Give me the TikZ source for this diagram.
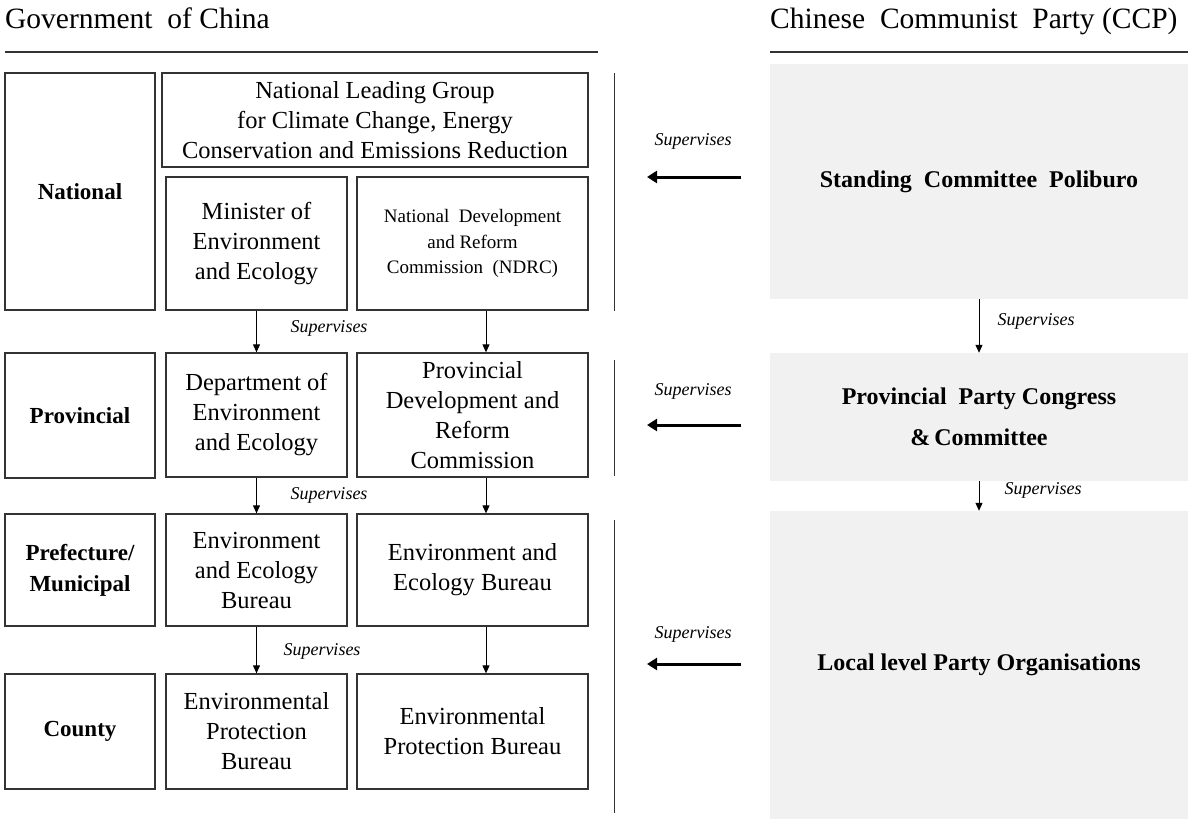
\documentclass[tikz,border=0pt]{standalone}
\usepackage{fontspec}
\setmainfont{Liberation Serif}
\usetikzlibrary{arrows.meta}
\definecolor{boxline}{HTML}{333333}
\definecolor{partygray}{HTML}{F1F1F1}
\begin{document}
\begin{tikzpicture}[x=1pt,y=-1pt,
 govbox/.style={draw=boxline, line width=1.3pt, inner sep=2pt, align=center, font=\fontsize{24.5}{30}\selectfont},
 levelbox/.style={govbox, font=\fontsize{23}{31}\bfseries\selectfont},
 smallbox/.style={govbox, font=\fontsize{19}{25.5}\selectfont},
 partybox/.style={fill=partygray, draw=none, align=center, inner sep=0pt, font=\fontsize{24}{41}\bfseries\selectfont},
 suplabel/.style={inner sep=0pt, font=\fontsize{18}{20}\itshape\selectfont},
 title/.style={anchor=base west, inner sep=0pt, font=\fontsize{29.5}{32}\selectfont},
 rule/.style={draw=boxline, line width=1.2pt},
 sepline/.style={draw=boxline, line width=1pt},
 down/.style={draw=black, line width=1pt, -{Triangle[length=8pt,width=7pt]}},
 bigarrow/.style={draw=black, line width=3pt, -{Triangle[length=10pt,width=12pt]}}
]
\useasboundingbox (0,0) rectangle (1188,819);

% titles
\node[title] (gtitle) at (5,28) {Government\ \ of\ China};
\node[title] (ctitle) at (770,28) {Chinese\ \ Communist\ \ Party\ (CCP)};
\coordinate (g1) at (5,52); \coordinate (g2) at (598,52);
\coordinate (c1) at (770,52); \coordinate (c2) at (1188,52);
\draw[rule] (g1) -- (g2);
\draw[rule] (c1) -- (c2);

% separator lines
\coordinate (s1a) at (614,73);  \coordinate (s1b) at (614,311);
\coordinate (s2a) at (614,360); \coordinate (s2b) at (614,476);
\coordinate (s3a) at (614,520); \coordinate (s3b) at (614,813);
\draw[sepline] (s1a) -- (s1b);
\draw[sepline] (s2a) -- (s2b);
\draw[sepline] (s3a) -- (s3b);

% level boxes
\node[levelbox, minimum width=150pt, minimum height=237pt] (lnat) at (80,191.5) {National};
\node[levelbox, minimum width=150pt, minimum height=125pt] (lprov) at (80,415.5) {Provincial};
\node[levelbox, minimum width=150pt, minimum height=112pt] (lpref) at (80,570) {Prefecture/\\Municipal};
\node[levelbox, minimum width=150pt, minimum height=115pt] (lcty) at (80,731.5) {County};

% national
\node[govbox, minimum width=426pt, minimum height=94pt] (nlg) at (375,120)
  {National Leading Group\\for Climate Change, Energy\\Conservation and Emissions Reduction};
\node[govbox, minimum width=181pt, minimum height=133pt] (mee) at (256.5,243.5)
  {Minister of\\Environment\\and Ecology};
\node[smallbox, minimum width=231pt, minimum height=133pt] (ndrc) at (472.5,243.5)
  {National\ \ Development\\and Reform\\Commission\ \ (NDRC)};

% provincial
\node[govbox, minimum width=181pt, minimum height=124pt] (dee) at (256.5,415)
  {Department of\\Environment\\and Ecology};
\node[govbox, minimum width=231pt, minimum height=124pt] (pdrc) at (472.5,415)
  {Provincial\\Development and\\Reform\\Commission};

% prefecture
\node[govbox, minimum width=181pt, minimum height=112pt] (eeb1) at (256.5,570)
  {Environment\\and Ecology\\Bureau};
\node[govbox, minimum width=231pt, minimum height=112pt] (eeb2) at (472.5,570)
  {Environment and\\Ecology Bureau};

% county
\node[govbox, minimum width=181pt, minimum height=115pt] (epb1) at (256.5,731.5)
  {Environmental\\Protection\\Bureau};
\node[govbox, minimum width=231pt, minimum height=115pt] (epb2) at (472.5,731.5)
  {Environmental\\Protection Bureau};

% vertical arrows (government)
\draw[down] (mee.south) -- (dee.north);
\draw[down] ([xshift=13.5pt]ndrc.south) -- ([xshift=13.5pt]pdrc.north);
\draw[down] (dee.south) -- (eeb1.north);
\draw[down] ([xshift=13.5pt]pdrc.south) -- ([xshift=13.5pt]eeb2.north);
\draw[down] (eeb1.south) -- (epb1.north);
\draw[down] ([xshift=13.5pt]eeb2.south) -- ([xshift=13.5pt]epb2.north);
\node[suplabel] (sv1) at (329,328) {Supervises};
\node[suplabel] (sv2) at (329,495) {Supervises};
\node[suplabel] (sv3) at (322,651) {Supervises};

% party boxes
\node[partybox, minimum width=418pt, minimum height=235pt] (psc) at (979,181.5)
  {Standing\ \ Committee\ \ Poliburo};
\node[partybox, minimum width=418pt, minimum height=128pt] (ppc) at (979,417)
  {Provincial\ \ Party Congress\\\&\,Committee};
\node[partybox, minimum width=418pt, minimum height=308pt] (lpo) at (979,665)
  {Local level Party Organisations};

\draw[down] (psc.south) -- (ppc.north);
\draw[down] (ppc.south) -- (lpo.north);
\node[suplabel] (sv4) at (1036,321) {Supervises};
\node[suplabel] (sv5) at (1043,490) {Supervises};

% big arrows
\coordinate (a1s) at (741,177); \coordinate (a1e) at (647,177);
\coordinate (a2s) at (741,425); \coordinate (a2e) at (647,425);
\coordinate (a3s) at (741,664); \coordinate (a3e) at (647,664);
\draw[bigarrow] (a1s) -- (a1e);
\draw[bigarrow] (a2s) -- (a2e);
\draw[bigarrow] (a3s) -- (a3e);
\node[suplabel] (sv6) at (693,141) {Supervises};
\node[suplabel] (sv7) at (693,391) {Supervises};
\node[suplabel] (sv8) at (693,634) {Supervises};
\end{tikzpicture}
\end{document}
